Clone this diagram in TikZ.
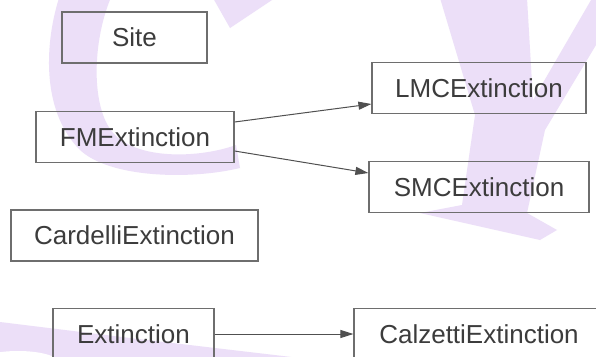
\documentclass[tikz,border=0pt]{standalone}
\usepackage{fontspec}
\setmainfont{Liberation Sans}
\usetikzlibrary{arrows.meta,calc}

\definecolor{wm}{RGB}{236,223,248}
\definecolor{boxline}{RGB}{110,110,110}
\definecolor{edgeline}{RGB}{80,80,80}
\definecolor{label}{RGB}{60,60,60}

\tikzset{
  cls/.style={draw=boxline, line width=1.2pt, minimum height=51pt,
    inner sep=0pt, text=label, font=\fontsize{26}{30}\selectfont},
  dep/.style={draw=edgeline, line width=1pt,
    -{Triangle[length=13pt,width=8pt]}},
}

\begin{document}
\begin{tikzpicture}[x=1pt,y=-1pt]
  \useasboundingbox (0,0) rectangle (596,356);
  \clip (0,0) rectangle (596,356);
  \fill[white] (0,0) rectangle (596,356);

  % background mark: letter C
  \fill[wm] (60,-5) .. controls (45,40) and (40,110) .. (80,150)
            .. controls (110,178) and (190,180) .. (240,168)
            -- (236,145)
            .. controls (200,158) and (140,160) .. (115,135)
            .. controls (90,110) and (92,40) .. (112,-5) -- cycle;
  \fill[wm] (213,-2) -- (230,28) -- (275,-2) -- cycle;
  % background mark: letter Y
  \fill[wm] (440,-2) -- (527,-2) -- (533,100) -- (598,-12) -- (602,-12)
            -- (602,35) -- (545,130) -- (527,213) -- (557,230)
            -- (540,240) -- (420,213) -- (462,205) -- (475,115) -- cycle;
  % background mark: lower left stroke
  \fill[wm] (0,322) -- (130,338) -- (300,358) -- (0,358) -- cycle;
  \fill[white] (18,362) ellipse[x radius=40, y radius=11];

  % classes
  \node[cls, minimum width=145pt] (site)     at (134.5,37.5) {Site};
  \node[cls, minimum width=198pt] (fm)       at (135,137)    {FMExtinction};
  \node[cls, minimum width=214pt] (lmc)      at (479,88)     {LMCExtinction};
  \node[cls, minimum width=220pt] (smc)      at (479,187)    {SMCExtinction};
  \node[cls, minimum width=247pt] (cardelli) at (134.5,235.5){CardelliExtinction};
  \node[cls, minimum width=161pt] (ext)      at (133.5,334)  {Extinction};
  \node[cls, minimum width=250pt] (calz)     at (479,334)    {CalzettiExtinction};

  % relations
  \draw[dep] ($(fm.east)+(0,-15)$) -- ($(lmc.west)+(0,16)$);
  \draw[dep] ($(fm.east)+(0,14)$)  -- ($(smc.west)+(0,-14)$);
  \draw[dep] (ext.east) -- (calz.west);
\end{tikzpicture}
\end{document}
